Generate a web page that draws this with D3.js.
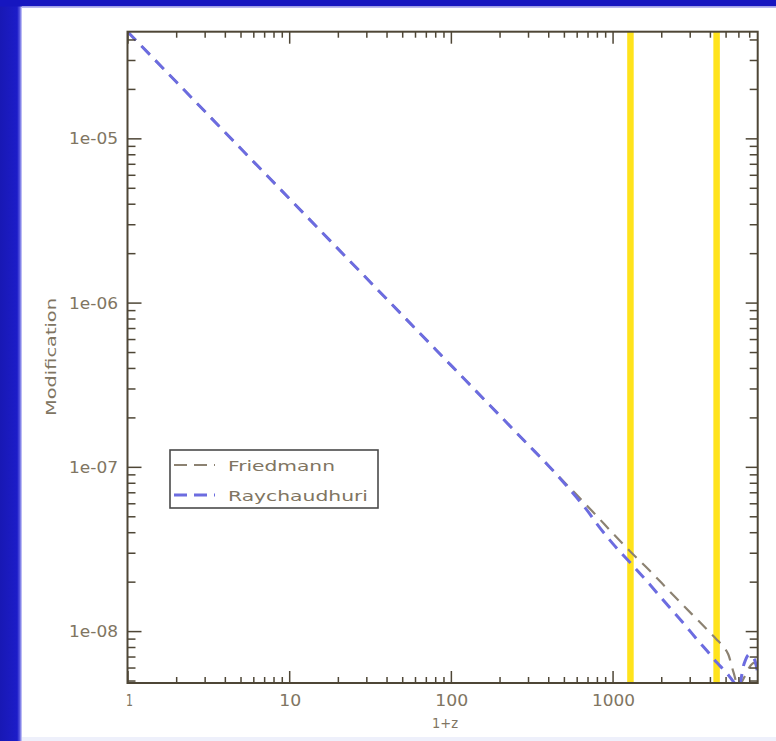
<!DOCTYPE html>
<html>
<head>
<meta charset="utf-8">
<script src="https://cdn.jsdelivr.net/npm/d3@7"></script>
<style>
  html, body { margin: 0; padding: 0; background: #ffffff; }
  svg { display: block; }
</style>
</head>
<body>
<svg id="chart" width="776" height="741"></svg>
<script>
// Redshift samples (1+z) shared by both curves
const onePlusZ = [1, 2, 5, 10, 20, 50, 100, 200, 300, 400, 500, 600, 700, 800, 1000,
                  1300, 1700, 2200, 2800, 3400, 4000, 4400, 4800, 5200, 5600, 6000,
                  6500, 7000, 7500, 8000];

// Modification from the Friedmann equation
const friedmann = [4.46e-5, 2.21e-5, 8.70e-6, 4.31e-6, 2.13e-6, 8.40e-7, 4.16e-7, 2.06e-7,
                   1.365e-7, 1.02e-7, 8.12e-8, 6.75e-8, 5.76e-8, 5.01e-8, 3.95e-8,
                   3.02e-8, 2.33e-8, 1.79e-8, 1.40e-8, 1.155e-8, 9.8e-9, 8.9e-9, 8.1e-9,
                   7.2e-9, 5.6e-9, 4.6e-9, 5.2e-9, 6.0e-9, 6.4e-9, 6.0e-9];

// Modification from the Raychaudhuri equation
const raychaudhuri = [4.46e-5, 2.21e-5, 8.70e-6, 4.31e-6, 2.13e-6, 8.40e-7, 4.16e-7, 2.06e-7,
                      1.365e-7, 1.02e-7, 8.0e-8, 6.5e-8, 5.4e-8, 4.5e-8, 3.42e-8,
                      2.58e-8, 1.92e-8, 1.43e-8, 1.09e-8, 8.67e-9, 7.23e-9, 6.45e-9, 5.9e-9,
                      5.4e-9, 4.9e-9, 4.5e-9, 6.3e-9, 7.2e-9, 6.8e-9, 5.2e-9];

// Epoch markers (1+z)
const markers = [1290, 4400];

// Axis ticks and their labels
const xMajor = [1, 10, 100, 1000];
const xTickLabels = ["1", "10", "100", "1000"];
const yMajor = [1e-5, 1e-6, 1e-7, 1e-8];
const yTickLabels = ["1e-05", "1e-06", "1e-07", "1e-08"];
const seriesNames = ["Friedmann", "Raychaudhuri"];

const svg = d3.select("#chart");

// Slide frame
svg.append("rect").attr("x", 0).attr("y", 0).attr("width", 776).attr("height", 741).attr("fill", "#ffffff");
const grad = svg.append("defs").append("linearGradient").attr("id", "leftEdge")
  .attr("x1", 0).attr("x2", 1).attr("y1", 0).attr("y2", 0);
grad.append("stop").attr("offset", 0).attr("stop-color", "#1818b4");
grad.append("stop").attr("offset", 0.78).attr("stop-color", "#1c1cc8");
grad.append("stop").attr("offset", 0.9).attr("stop-color", "#5a5ae0");
grad.append("stop").attr("offset", 1).attr("stop-color", "#d8d8fa");
svg.append("rect").attr("x", 0).attr("y", 0).attr("width", 22).attr("height", 741).attr("fill", "url(#leftEdge)");
svg.append("rect").attr("x", 0).attr("y", 0).attr("width", 776).attr("height", 6.5).attr("fill", "#1616c0");
svg.append("rect").attr("x", 22).attr("y", 6.5).attr("width", 754).attr("height", 1.5).attr("fill", "#b8b8f0");
svg.append("rect").attr("x", 22).attr("y", 737).attr("width", 754).attr("height", 4).attr("fill", "#eef0fb");

const L = 127.5, R = 757.7, T = 31.7, B = 683;
const x = d3.scaleLog().domain([1, 7900]).range([L, R]);
const y = d3.scaleLog().domain([4.83e-9, 4.46e-5]).range([B, T]);

const ink = "#4e4636";
const textCol = "#807562";
const font = "DejaVu Sans, Verdana, sans-serif";

svg.append("clipPath").attr("id", "plotClip")
  .append("rect").attr("x", L).attr("y", T).attr("width", R - L).attr("height", B - T);

const plot = svg.append("g").attr("clip-path", "url(#plotClip)");

// Vertical epoch markers
plot.selectAll("line.marker").data(markers).join("line")
  .attr("class", "marker")
  .attr("x1", d => x(d)).attr("x2", d => x(d))
  .attr("y1", T).attr("y2", B)
  .attr("stroke", "#ffe31c").attr("stroke-width", 6.5);

const line = d3.line().x(d => x(d[0])).y(d => y(d[1])).curve(d3.curveMonotoneX);

plot.append("path")
  .datum(onePlusZ.map((z, i) => [z, friedmann[i]]))
  .attr("d", line).attr("fill", "none")
  .attr("stroke", "#8c8272").attr("stroke-width", 2.2)
  .attr("stroke-dasharray", "12,8");

plot.append("path")
  .datum(onePlusZ.map((z, i) => [z, raychaudhuri[i]]))
  .attr("d", line).attr("fill", "none")
  .attr("stroke", "#6c6ce0").attr("stroke-width", 3)
  .attr("stroke-dasharray", "12,8");

// Axes: ticks point inward on all four sides
const xMinor = x.ticks().filter(v => !xMajor.includes(v));
const yMinor = y.ticks().filter(v => !yMajor.some(m => Math.abs(m - v) / m < 1e-6));

function styleAxis(g) {
  g.select(".domain").remove();
  g.selectAll("line").attr("stroke", ink).attr("stroke-width", 1.5);
  g.selectAll("text").remove();
}

svg.append("g").attr("transform", `translate(0,${B})`)
  .call(d3.axisBottom(x).tickValues(xMajor).tickSize(-12).tickSizeOuter(0)).call(styleAxis);
svg.append("g").attr("transform", `translate(0,${B})`)
  .call(d3.axisBottom(x).tickValues(xMinor).tickSize(-6).tickSizeOuter(0)).call(styleAxis);
svg.append("g").attr("transform", `translate(0,${T})`)
  .call(d3.axisTop(x).tickValues(xMajor).tickSize(-12).tickSizeOuter(0)).call(styleAxis);
svg.append("g").attr("transform", `translate(0,${T})`)
  .call(d3.axisTop(x).tickValues(xMinor).tickSize(-6).tickSizeOuter(0)).call(styleAxis);
svg.append("g").attr("transform", `translate(${L},0)`)
  .call(d3.axisLeft(y).tickValues(yMajor).tickSize(-14).tickSizeOuter(0)).call(styleAxis);
svg.append("g").attr("transform", `translate(${L},0)`)
  .call(d3.axisLeft(y).tickValues(yMinor).tickSize(-8).tickSizeOuter(0)).call(styleAxis);
svg.append("g").attr("transform", `translate(${R},0)`)
  .call(d3.axisRight(y).tickValues(yMajor).tickSize(-12).tickSizeOuter(0)).call(styleAxis);
svg.append("g").attr("transform", `translate(${R},0)`)
  .call(d3.axisRight(y).tickValues(yMinor).tickSize(-8).tickSizeOuter(0)).call(styleAxis);

// Plot box
svg.append("rect").attr("x", L).attr("y", T).attr("width", R - L).attr("height", B - T)
  .attr("fill", "none").attr("stroke", ink).attr("stroke-width", 2);

// Tick labels
const xLabelWidths = [7, 22, 33, 43];
svg.selectAll("text.xt").data(xMajor).join("text")
  .attr("class", "xt")
  .attr("x", d => x(d) + (d === 1 ? 2 : 1)).attr("y", 705.5)
  .attr("text-anchor", "middle")
  .attr("font-family", font).attr("font-size", 15).attr("fill", textCol)
  .attr("textLength", (d, i) => xLabelWidths[i]).attr("lengthAdjust", "spacingAndGlyphs")
  .text((d, i) => xTickLabels[i]);

svg.selectAll("text.yt").data(yMajor).join("text")
  .attr("class", "yt")
  .attr("x", 118).attr("y", d => y(d) + 6)
  .attr("text-anchor", "end")
  .attr("font-family", font).attr("font-size", 15).attr("fill", textCol)
  .attr("textLength", 49).attr("lengthAdjust", "spacingAndGlyphs")
  .text((d, i) => yTickLabels[i]);

// Axis titles
svg.append("text").attr("x", 445).attr("y", 728)
  .attr("text-anchor", "middle")
  .attr("font-family", font).attr("font-size", 14).attr("fill", textCol)
  .attr("textLength", 26).attr("lengthAdjust", "spacingAndGlyphs")
  .text("1+z");

svg.append("text").attr("transform", "translate(56,357) rotate(-90)")
  .attr("text-anchor", "middle")
  .attr("font-family", font).attr("font-size", 14).attr("fill", textCol)
  .attr("textLength", 118).attr("lengthAdjust", "spacingAndGlyphs")
  .text("Modification");

// Legend
const legend = svg.append("g");
legend.append("rect").attr("x", 170).attr("y", 450).attr("width", 208).attr("height", 58)
  .attr("fill", "#ffffff").attr("stroke", "#4a4a4a").attr("stroke-width", 1.6);
const legendStroke = [{ c: "#8c8272", w: 2.2 }, { c: "#6c6ce0", w: 3 }];
const legendWidths = [107, 140];
seriesNames.forEach((name, i) => {
  const yy = 465 + i * 30;
  legend.append("line").attr("x1", 174).attr("x2", 215).attr("y1", yy).attr("y2", yy)
    .attr("stroke", legendStroke[i].c).attr("stroke-width", legendStroke[i].w)
    .attr("stroke-dasharray", "13,7");
  legend.append("text").attr("x", 228).attr("y", yy + 5.5)
    .attr("font-family", font).attr("font-size", 14).attr("fill", textCol)
    .attr("textLength", legendWidths[i]).attr("lengthAdjust", "spacingAndGlyphs")
    .text(name);
});
</script>
</body>
</html>
